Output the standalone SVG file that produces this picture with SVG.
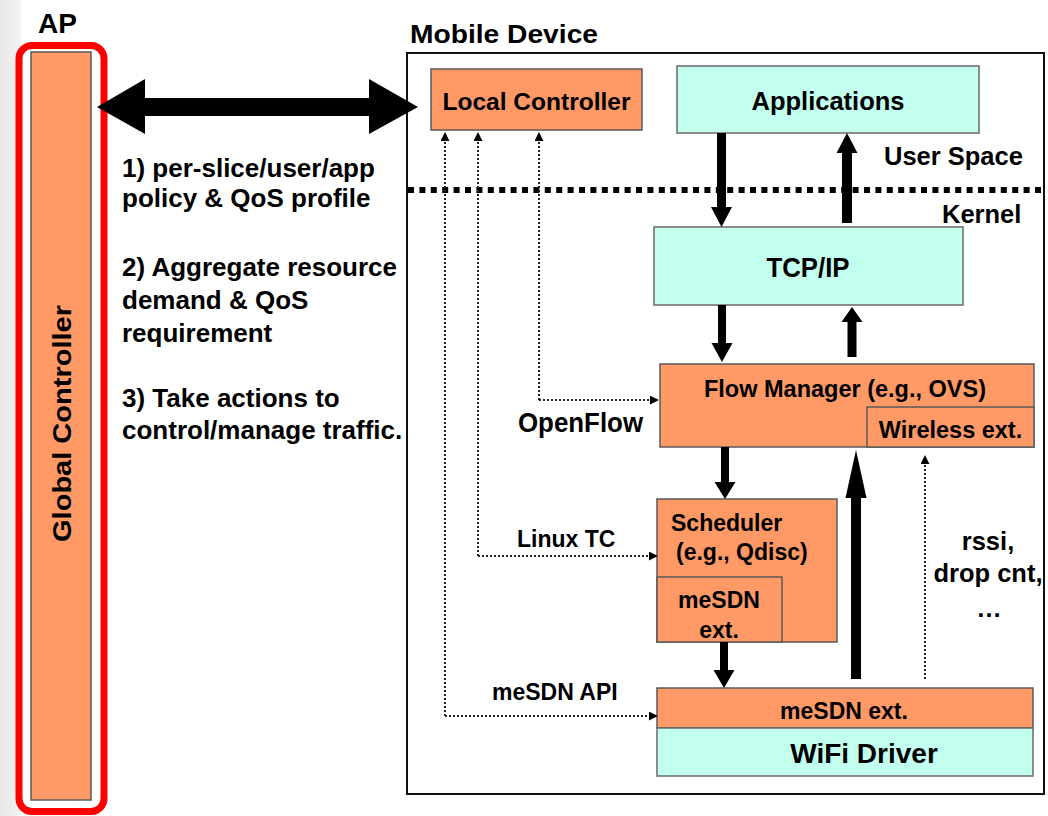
<svg xmlns="http://www.w3.org/2000/svg" width="1048" height="816" viewBox="0 0 1048 816">
  <defs>
    <linearGradient id="edgeShade" x1="0" y1="0" x2="1" y2="0">
      <stop offset="0" stop-color="#e6e6e6"/>
      <stop offset="1" stop-color="#f4f4f4"/>
    </linearGradient>
    <marker id="tipSmall" viewBox="0 0 10 10" refX="9" refY="5" markerWidth="9" markerHeight="9" markerUnits="userSpaceOnUse" orient="auto">
      <path d="M0,0 L10,5 L0,10 z" fill="#000"/>
    </marker>
    <style>
      text { font-family: "Liberation Sans", Arial, sans-serif; font-weight: bold; fill: #000; }
      .orange { fill: #FF9966; stroke: #5a5a5a; stroke-width: 1.5; }
      .aqua { fill: #C2FFEE; stroke: #6a6a6a; stroke-width: 1.5; }
      .mid { text-anchor: middle; }
      .dotted { fill: none; stroke: #222; stroke-width: 2; stroke-dasharray: 2 2; marker-end: url(#tipSmall); }
      .thick { fill: #000; }
    </style>
  </defs>

  <rect x="0" y="0" width="1048" height="816" fill="#fff"/>
  <rect x="0" y="0" width="21" height="816" fill="url(#edgeShade)"/>

  <!-- Access point with its global controller -->
  <g id="ap">
    <text x="38" y="33" font-size="28">AP</text>
    <rect x="19" y="45.5" width="85" height="766" rx="13" fill="#fff" stroke="#ff0000" stroke-width="7"/>
  </g>
  <g id="global-controller">
    <rect x="31" y="52" width="60" height="748" class="orange"/>
    <text class="mid" font-size="26" textLength="237" lengthAdjust="spacingAndGlyphs" transform="translate(71,423.5) rotate(-90)">Global Controller</text>
  </g>

  <!-- Control channel description -->
  <g id="notes" font-size="26">
    <text x="122" y="177">1) per-slice/user/app</text>
    <text x="122" y="207">policy &amp; QoS profile</text>
    <text x="122" y="276">2) Aggregate resource</text>
    <text x="122" y="309">demand &amp; QoS</text>
    <text x="122" y="342">requirement</text>
    <text x="122" y="407">3) Take actions to</text>
    <text x="122" y="439">control/manage traffic.</text>
  </g>

  <!-- Mobile device frame -->
  <g id="mobile-device">
    <text x="410" y="43" font-size="26" textLength="188" lengthAdjust="spacingAndGlyphs">Mobile Device</text>
    <rect x="407" y="53" width="637" height="741" fill="none" stroke="#111" stroke-width="2"/>
    <line x1="408" y1="190" x2="1043" y2="190" stroke="#000" stroke-width="6" stroke-dasharray="6 5.4"/>
    <text x="884" y="165" font-size="25.5">User Space</text>
    <text x="942" y="223" font-size="25.5">Kernel</text>
  </g>

  <g id="local-controller">
    <rect x="431" y="69" width="211" height="61" class="orange"/>
    <text x="536.5" y="110" class="mid" font-size="24.5">Local Controller</text>
  </g>

  <g id="applications">
    <rect x="677" y="66" width="302" height="67" class="aqua"/>
    <text x="828" y="110" class="mid" font-size="25.5">Applications</text>
  </g>

  <g id="tcp-ip">
    <rect x="654" y="227" width="309" height="78" class="aqua"/>
    <text x="808" y="277" class="mid" font-size="27" textLength="83" lengthAdjust="spacingAndGlyphs">TCP/IP</text>
  </g>

  <g id="flow-manager">
    <rect x="660" y="364" width="374" height="83" class="orange"/>
    <text x="845" y="397" class="mid" font-size="23.5">Flow Manager (e.g., OVS)</text>
    <rect x="867" y="407" width="167" height="40" class="orange" stroke="#444"/>
    <text x="950.5" y="438" class="mid" font-size="23.5">Wireless ext.</text>
  </g>

  <g id="scheduler">
    <rect x="657" y="499" width="180" height="143" class="orange"/>
    <text x="671" y="531" font-size="23">Scheduler</text>
    <text x="676" y="560" font-size="23">(e.g., Qdisc)</text>
    <rect x="657" y="577" width="125" height="65" class="orange" stroke="#333"/>
    <text x="719" y="608" class="mid" font-size="23">meSDN</text>
    <text x="719" y="638" class="mid" font-size="23">ext.</text>
  </g>

  <g id="wifi-driver">
    <rect x="657" y="688" width="376" height="40" class="orange"/>
    <text x="844" y="719" class="mid" font-size="23">meSDN ext.</text>
    <rect x="657" y="728" width="376" height="48" class="aqua" stroke="#444"/>
    <text x="864" y="763" class="mid" font-size="28">WiFi Driver</text>
  </g>

  <g id="labels">
    <text x="518" y="432" font-size="27" textLength="125" lengthAdjust="spacingAndGlyphs">OpenFlow</text>
    <text x="517" y="547" font-size="23">Linux TC</text>
    <text x="492" y="700" font-size="23">meSDN API</text>
    <text x="988" y="550" class="mid" font-size="25.5">rssi,</text>
    <text x="988" y="582" class="mid" font-size="25.5">drop cnt,</text>
    <text x="989" y="617" class="mid" font-size="25.5">…</text>
  </g>

  <!-- Connectors -->
  <g id="connectors">
    <!-- AP <-> local controller control channel -->
    <polygon class="thick" points="97,107 145,79 145,98 369,98 369,79 418,107 369,134 369,116 145,116 145,134"/>

    <!-- data path arrows -->
    <polygon class="thick" points="717,133 726,133 726,207 732,207 721.5,227 711,207 717,207"/>
    <polygon class="thick" points="842,223 852,223 852,153 857.5,153 847,133 836.5,153 842,153"/>
    <polygon class="thick" points="718,305 726,305 726,343 732.5,343 722,362 711.5,343 718,343"/>
    <polygon class="thick" points="847.5,357 856.5,357 856.5,322 862.5,322 852,307 841.5,322 847.5,322"/>
    <polygon class="thick" points="721,447 729,447 729,482 735.5,482 725,499 714.5,482 721,482"/>
    <polygon class="thick" points="720,642 728,642 728,670 734.5,670 724,688 713.5,670 720,670"/>
    <polygon class="thick" points="851,679 861,679 861,498 866.5,498 856,450 845.5,498 851,498"/>

    <!-- control paths from the local controller -->
    <path class="dotted" d="M539,400 L539,133"/>
    <path class="dotted" d="M539,400 L658,400"/>
    <path class="dotted" d="M478,556 L478,133"/>
    <path class="dotted" d="M478,556 L657,556"/>
    <path class="dotted" d="M445,716 L445,133"/>
    <path class="dotted" d="M445,716 L657,716"/>

    <!-- driver statistics up to the wireless extension -->
    <path class="dotted" d="M925,679 L925,456"/>
  </g>
</svg>
